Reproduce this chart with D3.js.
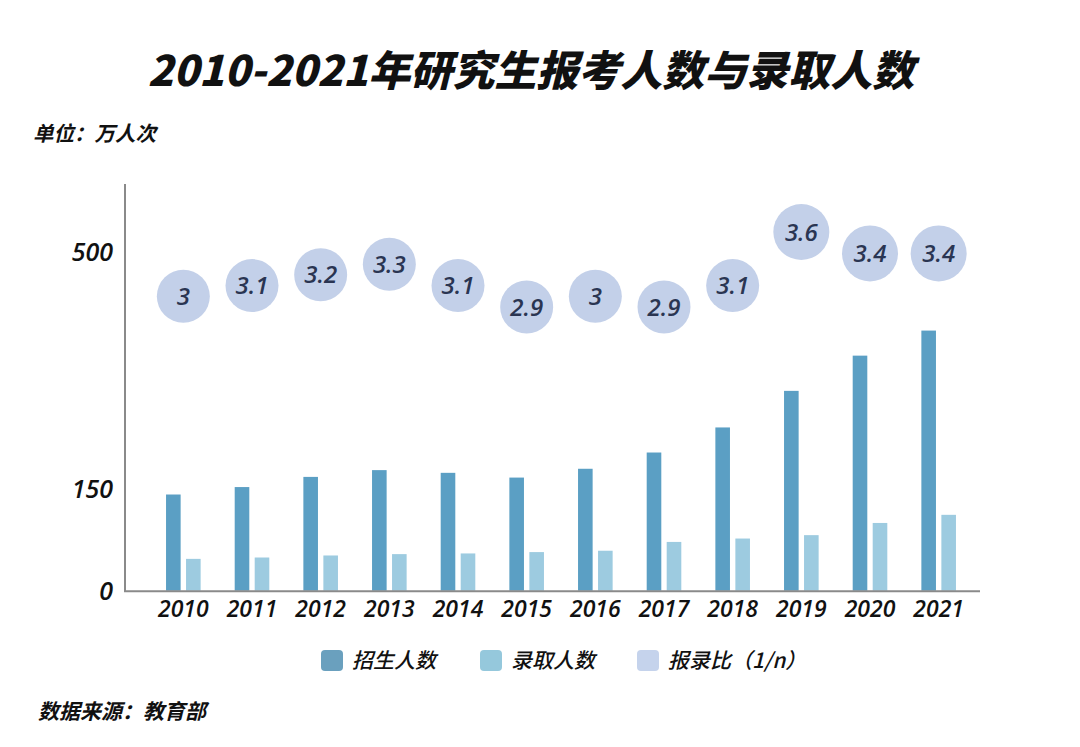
<!DOCTYPE html>
<html>
<head>
<meta charset="utf-8">
<script src="https://cdn.jsdelivr.net/npm/d3@7"></script>
<style>
  html, body { margin: 0; padding: 0; background: #ffffff; }
  svg { display: block; }
  .num { font-family: 'Open Sans', 'DejaVu Sans', sans-serif; font-style: italic; font-weight: 600; }
</style>
</head>
<body>
<svg id="chart" width="1080" height="747"></svg>
<script>
// ---- data ----
const years = ["2010","2011","2012","2013","2014","2015","2016","2017","2018","2019","2020","2021"];
const applicants = [142, 153, 168, 178, 174, 167, 180, 204, 241, 295, 347, 384];   // 招生人数 (as labelled)
const admitted   = [47, 49, 52, 54, 55, 57, 59, 72, 77, 82, 100, 112];             // 录取人数
const ratio      = [3, 3.1, 3.2, 3.3, 3.1, 2.9, 3, 2.9, 3.1, 3.6, 3.4, 3.4];       // 报录比
const yTicks     = [0, 150, 500];
const seriesNames = ["招生人数", "录取人数", "报录比（1/n）"];

const colors = { dark: "#5b9fc4", light: "#9dcbe0", bubble: "#c3d0e9", bubbleText: "#2a3552" };
const legendColors = ["#6aa0be", "#95c8dc", "#c5d3ec"];
const cjkFont = "'Noto Sans CJK SC', sans-serif";

const svg = d3.select("#chart");

// ---- scales ----
const x = d3.scaleBand().domain(years).range([149, 973]).padding(0);
const x1 = d3.scaleBand().domain(["a", "b"])
  .range([x.bandwidth() / 2 - 17.3, x.bandwidth() / 2 + 17.3]).paddingInner(0.27);
const y = d3.scaleLinear().domain([0, 500]).range([590.7, 252]);
const yR = d3.scaleLinear().domain([2.9, 3.6]).range([307, 232]);

// ---- title ----
svg.append("text")
  .attr("x", 531).attr("y", 86)
  .attr("text-anchor", "middle")
  .style("font-family", cjkFont)
  .style("font-weight", 900)
  .style("font-style", "italic")
  .style("font-size", "42px")
  .attr("fill", "#111")
  .text("2010-2021年研究生报考人数与录取人数");

svg.append("text")
  .attr("x", 33).attr("y", 141)
  .style("font-family", cjkFont)
  .style("font-weight", 700)
  .style("font-style", "italic")
  .style("font-size", "20.5px")
  .attr("fill", "#111")
  .text("单位：万人次");

// ---- bars ----
const groups = svg.append("g").selectAll("g")
  .data(years)
  .join("g")
  .attr("transform", d => `translate(${x(d)},0)`);

groups.append("rect")
  .attr("x", x1("a"))
  .attr("width", x1.bandwidth())
  .attr("y", (d, i) => y(applicants[i]))
  .attr("height", (d, i) => y(0) - y(applicants[i]))
  .attr("fill", colors.dark);

groups.append("rect")
  .attr("x", x1("b"))
  .attr("width", x1.bandwidth())
  .attr("y", (d, i) => y(admitted[i]))
  .attr("height", (d, i) => y(0) - y(admitted[i]))
  .attr("fill", colors.light);

// ---- bubbles ----
const bub = svg.append("g").selectAll("g")
  .data(years)
  .join("g")
  .attr("transform", (d, i) => `translate(${x(d) + x.bandwidth() / 2},${yR(ratio[i])})`);

bub.append("circle")
  .attr("r", (d, i) => ratio[i] >= 3.4 ? 28 : 26.5)
  .attr("fill", colors.bubble);

bub.append("text")
  .attr("class", "num")
  .attr("text-anchor", "middle")
  .attr("dy", "0.36em")
  .style("font-size", "24px")
  .attr("fill", colors.bubbleText)
  .text((d, i) => ratio[i]);

// ---- axes ----
svg.append("line")
  .attr("x1", 125).attr("x2", 125)
  .attr("y1", 184).attr("y2", y(0) + 1)
  .attr("stroke", "#8a8a8a").attr("stroke-width", 2);

svg.append("line")
  .attr("x1", 124).attr("x2", 980)
  .attr("y1", y(0) + 0.5).attr("y2", y(0) + 0.5)
  .attr("stroke", "#8a8a8a").attr("stroke-width", 2);

svg.append("g").selectAll("text")
  .data(yTicks)
  .join("text")
  .attr("class", "num")
  .attr("x", 113)
  .attr("y", d => y(d))
  .attr("dy", "0.36em")
  .attr("text-anchor", "end")
  .style("font-size", "25px")
  .attr("fill", "#111")
  .text(d => d);

svg.append("g").selectAll("text")
  .data(years)
  .join("text")
  .attr("class", "num")
  .attr("x", d => x(d) + x.bandwidth() / 2)
  .attr("y", 617)
  .attr("text-anchor", "middle")
  .style("font-size", "23px")
  .attr("fill", "#111")
  .text(d => d);

// ---- legend ----
const legendX = [321, 480, 637];
const leg = svg.append("g").selectAll("g")
  .data(seriesNames)
  .join("g")
  .attr("transform", (d, i) => `translate(${legendX[i]},650)`);

leg.append("rect")
  .attr("width", 22).attr("height", 21)
  .attr("rx", 4).attr("ry", 4)
  .attr("fill", (d, i) => legendColors[i]);

leg.append("text")
  .attr("x", 31).attr("y", 18)
  .style("font-family", cjkFont)
  .style("font-style", "italic")
  .style("font-weight", 500)
  .style("font-size", "21px")
  .attr("fill", "#111")
  .text(d => d);

// ---- source ----
svg.append("text")
  .attr("x", 38).attr("y", 719)
  .style("font-family", cjkFont)
  .style("font-weight", 700)
  .style("font-style", "italic")
  .style("font-size", "21px")
  .attr("fill", "#111")
  .text("数据来源：教育部");
</script>
</body>
</html>
